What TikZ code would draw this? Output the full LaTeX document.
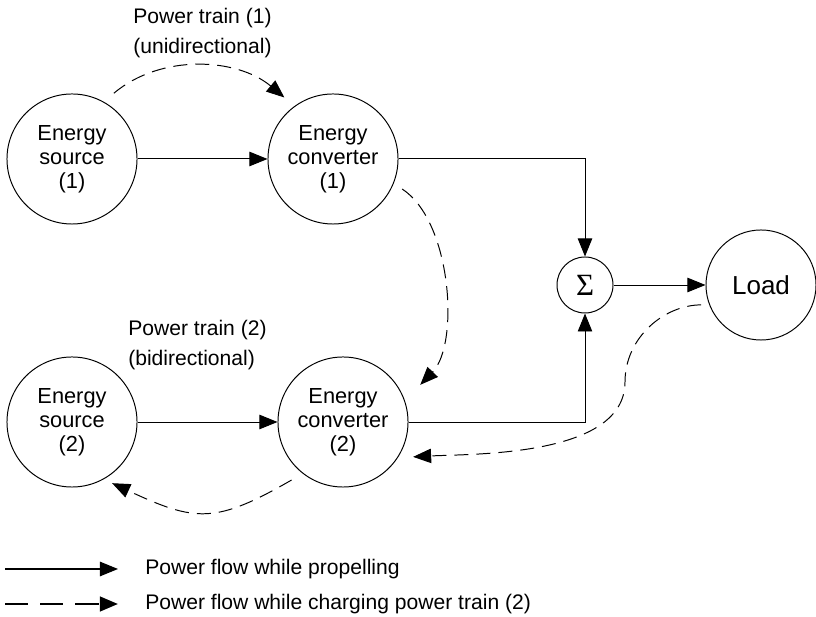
\documentclass[tikz,border=0pt]{standalone}
\usepackage{fontspec}
\setmainfont{Liberation Sans}
\newfontfamily\sumfont{Liberation Serif}
\usetikzlibrary{arrows.meta}

\begin{document}
\begin{tikzpicture}[x=0.025cm, y=0.025cm,
      unit/.style={draw, circle, line width=0.7pt, minimum size=3.25cm, inner sep=0pt,
                   align=center, font=\fontsize{15.5}{17}\selectfont},
      sumnode/.style={draw, circle, line width=0.7pt, minimum size=1.4cm, inner sep=0pt,
                   font=\sumfont\fontsize{22}{24}\selectfont},
      loadnode/.style={draw, circle, line width=0.7pt, minimum size=2.75cm, inner sep=0pt,
                   font=\fontsize{18.5}{20}\selectfont},
      txt/.style={anchor=west, align=left, inner sep=0pt, font=\fontsize{15}{21.3}\selectfont},
      arr/.style={-{Triangle[length=4.5mm, width=3.6mm]}, line width=0.7pt},
      dsh/.style={arr, dash pattern=on 3.5mm off 2mm}]
    \useasboundingbox (0,0) rectangle (816,617);
    % power train 1
    \node[unit] (src1) at (72,458) {Energy\\source\\(1)};
    \node[unit] (conv1) at (333,458) {Energy\\converter\\(1)};
    % power train 2
    \node[unit] (src2) at (72,195) {Energy\\source\\(2)};
    \node[unit] (conv2) at (343,195) {Energy\\converter\\(2)};
    \node[sumnode] (sum) at (585,332) {Σ};
    \node[loadnode] (load) at (761,332) {Load};
    \node[txt] (lab1) at (133,584) {Power train (1)\\(unidirectional)};
    \node[txt] (lab2) at (128,272) {Power train (2)\\(bidirectional)};
    % propelling
    \draw[arr] (src1) -- (conv1);
    \draw[arr] (src2) -- (conv2);
    \draw[arr] (conv1.east) -| (sum.north);
    \draw[arr] (conv2.east) -| (sum.south);
    \draw[arr] (sum) -- (load);
    % charging
    \draw[dsh, shorten <=3.3mm, shorten >=3.3mm] (src1.61) .. controls +(40:75) and +(140:75) .. (conv1.126);
    \draw[dsh, shorten <=2.5mm, shorten >=5.5mm] (conv1.-22) .. controls +(-33:69) and +(46:79) .. (conv2.19);
    \coordinate (bend) at (625,235);
    \draw[dsh, shorten <=2mm, shorten >=3.8mm] (load.-159) to[out=180, in=90] (bend)
      to[out=-90, in=3, looseness=0.8] (conv2.-33);
    \draw[dsh, shorten <=3.2mm, shorten >=2.3mm] (conv2.-128) to[out=-150, in=-25, looseness=1.3] (src2.-61);
    % legend
    \coordinate (k1a) at (5,48);
    \coordinate (k1b) at (118,48);
    \coordinate (k2a) at (5,13);
    \coordinate (k2b) at (118,13);
    \draw[arr, line width=0.9pt] (k1a) -- (k1b);
    \draw[arr, line width=2pt, dash pattern=on 5.8mm off 3mm] (k2a) -- (k2b);
    \node[txt] (key1) at (145,48) {Power flow while propelling};
    \node[txt] (key2) at (145,13) {Power flow while charging power train (2)};
  \end{tikzpicture}
\end{document}
